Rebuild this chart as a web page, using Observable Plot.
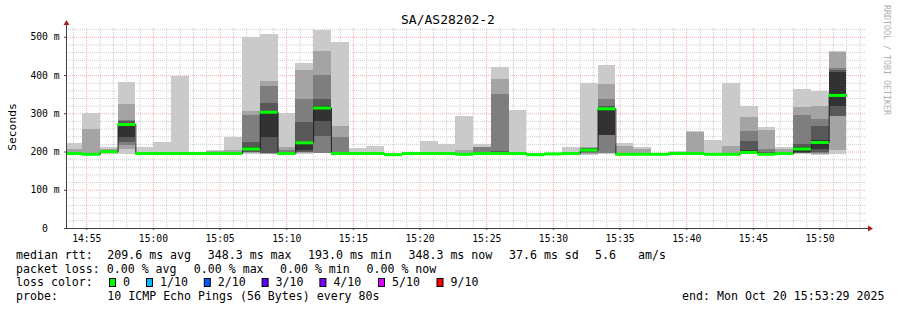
<!DOCTYPE html>
<html><head><meta charset="utf-8">
<script src="https://cdn.jsdelivr.net/npm/d3@7"></script>
<script src="https://cdn.jsdelivr.net/npm/@observablehq/plot@0.6"></script>
<style>
html,body{margin:0;padding:0;background:#fff;}
#chart{width:897px;height:310px;overflow:hidden;}
svg{display:block}
</style></head><body><div id="chart"></div>
<script>
// ---- chart data ----
const title = "SA/AS28202-2";
const rangeStart = "2025-10-20T14:53:29Z";
const rangeEnd = "2025-10-20T15:53:29Z";
const firstBarStart = "2025-10-20T14:53:21Z";
const stepSeconds = 80;

// median rtt per 80 s step (ms)
const medians = [196,194,201,272,196,196,196,196,196,196,208,304,196,224,315,196,196,196,193,196,196,196,194,196,196,196,193,195,196,205,313,194,194,194,196,196,194,194,199,194,196,208,225,348];

// sorted ping rtts (10 pings) per step (ms)
const pings = [
  [192,193,194,195,196,196,197,198,207,222],
  [190,192,193,194,194,195,195,196,260,302],
  [193,195,196,197,199,201,202,204,207,212],
  [194,207,217,226,239,270,280,283,325,383],
  [193,194,195,195,196,196,197,197,198,213],
  [193,194,195,195,196,196,197,197,198,225],
  [193,194,195,195,196,196,197,198,199,398],
  [193,194,195,195,196,196,196,197,197,197],
  [193,194,195,195,196,196,197,198,202,204],
  [193,194,195,195,196,196,197,198,204,237],
  [193,196,198,200,203,213,226,296,306,500],
  [193,194,195,196,239,306,326,372,385,507],
  [193,194,195,195,196,196,197,205,212,301],
  [193,196,198,200,203,226,276,338,414,432],
  [195,196,197,241,279,318,338,400,463,519],
  [194,195,195,196,196,196,196,239,267,487],
  [193,194,195,195,196,196,196,197,198,210],
  [193,194,195,195,196,196,196,197,198,215],
  [191,192,192,193,193,193,193,194,194,194],
  [193,194,195,195,196,196,196,197,197,199],
  [193,194,195,195,196,196,197,197,198,228],
  [193,194,195,195,196,196,197,197,198,220],
  [192,193,193,194,194,194,195,196,204,293],
  [193,194,195,195,196,196,197,211,213,219],
  [194,195,195,196,196,197,202,351,390,420],
  [193,194,195,195,196,196,197,197,198,309],
  [191,192,192,193,193,193,193,194,194,194],
  [193,194,195,195,195,196,196,196,197,197],
  [193,194,195,195,196,196,197,197,198,213],
  [192,194,196,198,202,206,208,210,212,380],
  [194,195,196,244,244,314,320,338,377,427],
  [192,193,193,194,194,194,195,196,215,222],
  [192,193,193,194,194,194,195,196,206,212],
  [192,193,193,194,194,194,195,195,195,196],
  [193,194,195,195,196,196,197,197,198,202],
  [194,195,195,196,196,196,197,198,252,254],
  [192,193,193,194,194,194,195,196,196,231],
  [192,193,193,194,194,194,195,196,215,380],
  [193,194,195,196,198,203,228,254,291,320],
  [192,193,193,194,194,195,200,206,255,265],
  [193,194,195,195,196,196,197,198,207,212],
  [193,195,197,197,200,213,220,296,317,363],
  [192,194,196,198,207,231,267,285,320,359],
  [194,205,293,294,320,408,412,418,460,464]
];

const smokeColors = ["#cacaca","#a4a4a4","#7e7e7e","#585858","#323232"];
const yTicks = [0,100,200,300,400,500];
const yTickLabels = ["0","100 m","200 m","300 m","400 m","500 m"];
const xTickLabels = ["14:55","15:00","15:05","15:10","15:15","15:20","15:25","15:30","15:35","15:40","15:45","15:50"];
const yMax = 523;

const legendRtt = [
  ["median rtt:", 16], ["209.6 ms avg", 107.3], ["348.3 ms max", 207.8], ["193.0 ms min", 308],
  ["348.3 ms now", 408.5], ["37.6 ms sd", 509], ["5.6", 595], ["am/s", 638]
];
const legendLoss = [
  ["packet loss: 0.00 % avg", 16], ["0.00 % max", 193.8], ["0.00 % min", 280], ["0.00 % now", 366.5]
];
const lossLabels = ["0","1/10","2/10","3/10","4/10","5/10","9/10"];
const lossColors = ["#00ff00","#00b8ff","#0059ff","#5e00ff","#7e00ff","#dd00ff","#ff0000"];
const lossBoxX = [109, 146, 203.8, 261.6, 319.4, 378, 436.5];
const probeText = "10 ICMP Echo Pings (56 Bytes) every 80s";
const endText = "end: Mon Oct 20 15:53:29 2025";
const watermark = "RRDTOOL / TOBI OETIKER";

// ---- build ----
const t0 = new Date(firstBarStart).getTime();
const bars = medians.map((m, i) => ({
  start: new Date(t0 + i * stepSeconds * 1000),
  end: new Date(t0 + (i + 1) * stepSeconds * 1000),
  median: m,
  p: pings[i]
}));
const smoke = bars.flatMap(b => smokeColors.map((c, k) => ({start: b.start, end: b.end, lo: b.p[k], hi: b.p[9 - k], color: c})));
const stepLine = [...bars.map(b => ({t: b.start, m: b.median})), {t: bars[bars.length - 1].end, m: bars[bars.length - 1].median}];

const xTicks = xTickLabels.map(s => new Date(`2025-10-20T${s}:00Z`));
const minorX = d3.utcMinute.range(new Date(rangeStart), new Date(rangeEnd)).filter(d => d.getUTCMinutes() % 5 !== 0);
const minorY = d3.range(20, yMax, 20).filter(v => v % 100 !== 0);
const majorY = yTicks.filter(v => v > 0);

const mono = "DejaVu Sans Mono, monospace";

const svg = Plot.plot({
  width: 897, height: 310,
  marginLeft: 66, marginRight: 31, marginTop: 28, marginBottom: 82,
  x: {type: "utc", domain: [new Date(rangeStart), new Date(rangeEnd)], axis: null},
  y: {domain: [0, yMax], axis: null},
  style: {fontFamily: mono, background: "#fff", color: "#000"},
  marks: [
    Plot.ruleX(minorX, {stroke: "#cdcdcd", strokeDasharray: "1,1"}),
    Plot.ruleY(minorY, {stroke: "#cdcdcd", strokeDasharray: "1,1"}),
    Plot.ruleX(xTicks, {stroke: "#f5b0b0", strokeDasharray: "1,1"}),
    Plot.ruleY(majorY, {stroke: "#f5b0b0", strokeDasharray: "1,1"}),
    Plot.rect(smoke, {x1: "start", x2: "end", y1: "lo", y2: "hi", fill: d => d.color, clip: true, shapeRendering: "crispEdges"}),
    Plot.line(stepLine, {x: "t", y: "m", curve: "step-after", stroke: "#202020", strokeWidth: 1, clip: true}),
    Plot.ruleY(bars, {y: "median", x1: "start", x2: "end", stroke: "#00ff00", strokeWidth: 3, clip: true}),
    Plot.axisY(yTicks, {tickSize: 0, tickPadding: 21.5, textAnchor: "middle", fontSize: 9.7, fontFamily: mono, fill: "#000", label: null,
      tickFormat: d => yTickLabels[yTicks.indexOf(d)]}),
    Plot.axisY(yTicks, {tickSize: 2, tickFormat: () => "", stroke: "#404040", label: null}),
    Plot.axisX(xTicks, {tickSize: 2, tickPadding: 4.6, fontSize: 9.7, fontFamily: mono, fill: "#000", stroke: "#404040", label: null,
      tickFormat: d => xTickLabels[xTicks.findIndex(t => +t === +d)]}),
    Plot.axisX(minorX, {tickSize: 1, tickFormat: () => "", stroke: "#808080", label: null})
  ]
});

const g = d3.select(svg).append("g");
// axis lines and arrows
g.append("line").attr("x1", 66.5).attr("x2", 66.5).attr("y1", 228.5).attr("y2", 24).attr("stroke", "#404040");
g.append("line").attr("x1", 66).attr("x2", 869).attr("y1", 228.5).attr("y2", 228.5).attr("stroke", "#404040");
g.append("path").attr("d", "M63.5,25 L69.5,25 L66.5,20 Z").attr("fill", "#a02020");
g.append("path").attr("d", "M868,225.5 L868,231.5 L873,228.5 Z").attr("fill", "#a02020");

// title
g.append("text").attr("x", 448).attr("y", 24).attr("text-anchor", "middle")
  .attr("font-family", mono).attr("font-size", 13).attr("fill", "#000").text(title);
// y label
g.append("text").attr("transform", "translate(15.5,127) rotate(-90)").attr("text-anchor", "middle")
  .attr("font-family", mono).attr("font-size", 11.3).attr("fill", "#000").text("Seconds");
// watermark
g.append("text").attr("transform", "translate(884.3,5) rotate(90)").attr("text-anchor", "start")
  .attr("font-family", mono).attr("font-size", 8.3).attr("fill", "#b0b0b0").text(watermark);

const legendFont = 11.6;
const lineY = [258.8, 272.5, 286.2, 299.9];
function txt(s, x, y, anchor) {
  g.append("text").attr("x", x).attr("y", y).attr("text-anchor", anchor || "start")
    .attr("font-family", mono).attr("font-size", legendFont).attr("fill", "#000")
    .attr("xml:space", "preserve").text(s);
}
legendRtt.forEach(([s, x]) => txt(s, x, lineY[0]));
legendLoss.forEach(([s, x]) => txt(s, x, lineY[1]));
txt("loss color:", 16, lineY[2]);
lossLabels.forEach((s, i) => {
  g.append("rect").attr("x", lossBoxX[i] + 0.5).attr("y", 278.5).attr("width", 6).attr("height", 8)
    .attr("fill", lossColors[i]).attr("stroke", "#000").attr("stroke-width", 1);
  txt(s, lossBoxX[i] + 14, lineY[2]);
});
txt("probe:", 16, lineY[3]);
txt(probeText, 107.3, lineY[3]);
txt(endText, 884.5, lineY[3], "end");

document.getElementById("chart").appendChild(svg);
</script>
</body></html>
